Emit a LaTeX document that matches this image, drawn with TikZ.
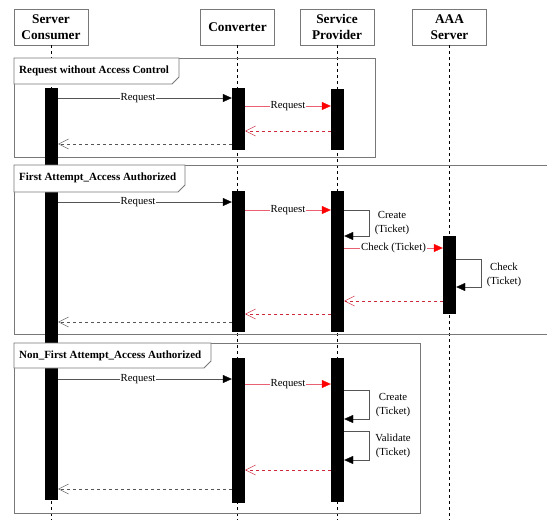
\documentclass[tikz,border=0pt]{standalone}
\usepackage{fontspec}
\setmainfont{Liberation Serif}
\usetikzlibrary{arrows.meta,fit}

\definecolor{framegray}{RGB}{120,120,120}
\definecolor{linegray}{RGB}{85,85,85}
\definecolor{reqred}{RGB}{235,95,115}
\definecolor{retred}{RGB}{205,40,60}

\tikzset{
  head/.style={draw=framegray, fill=white, minimum width=74pt, minimum height=36pt,
    inner sep=0pt, align=center, font=\fontsize{13.3}{16}\selectfont\bfseries},
  lifeline/.style={draw=black, thin, dashed},
  frame/.style={draw=framegray, line width=0.8pt},
  tab/.style={draw=framegray, fill=white, line width=0.8pt},
  tabtext/.style={anchor=west, inner sep=0pt, font=\fontsize{11}{12}\selectfont\bfseries},
  actbar/.style={fill=black, inner sep=0pt},
  msg/.style={fill=white, inner sep=1pt, font=\fontsize{10.8}{13}\selectfont},
  note/.style={align=center, inner sep=0pt, font=\fontsize{10.8}{14}\selectfont},
  call/.style={draw=linegray, -{Triangle[length=9pt,width=8pt,color=black]}},
  callred/.style={draw=reqred, -{Triangle[length=9pt,width=8pt,color=red]}},
  reply/.style={draw=linegray, dashed, -{Straight Barb[length=10pt,width=10pt]}},
  replyred/.style={draw=retred, dashed, -{Straight Barb[length=10pt,width=10pt]}},
}

\begin{document}
\begin{tikzpicture}[x=1pt,y=-1pt]
%\draw[step=10pt,gray,very thin] (0,0) grid (547,520);
\useasboundingbox (0,0) rectangle (547,520);
\clip (0,0) rectangle (547,520);
\coordinate (bottom) at (0,520);

% lifelines
\node[head] (sc) at (51,27) {Server\\Consumer};
\node[head] (cv) at (237.5,27) {Converter};
\node[head] (sp) at (337,27) {Service\\Provider};
\node[head] (aaa) at (449.5,27) {AAA\\Server};
\foreach \p in {sc,cv,sp,aaa}
  \draw[lifeline] (\p.south) -- (\p.south |- bottom);

% frames
\draw[frame] (14,58) rectangle (375,157);
\draw[frame] (14,165) rectangle (560,334);
\draw[frame] (14,343) rectangle (420,513);

% activation bars
\node[actbar, fit={(45,88) (58,500)}] (sc1) {};
\node[actbar, fit={(232,88) (245,150)}] (cv1) {};
\node[actbar, fit={(331,89) (344,150)}] (sp1) {};
\node[actbar, fit={(232,191) (245,332)}] (cv2) {};
\node[actbar, fit={(331,191) (344,332)}] (sp2) {};
\node[actbar, fit={(443,236) (456,314)}] (aaa2) {};
\node[actbar, fit={(232,358) (245,503)}] (cv3) {};
\node[actbar, fit={(331,358) (344,502)}] (sp3) {};

% frame tabs
\draw[tab] (14,58) -- (179,58) -- (179,77) -- (172,84) -- (14,84) -- cycle;
\node[tabtext] (t1) at (19,71) {Request without Access Control};
\draw[tab] (14,165) -- (185,165) -- (185,185) -- (178,192) -- (14,192) -- cycle;
\node[tabtext] (t2) at (19,178) {First Attempt\_Access Authorized};
\draw[tab] (14,343) -- (211,343) -- (211,361) -- (204,368) -- (14,368) -- cycle;
\node[tabtext] (t3) at (19,356) {Non\_First Attempt\_Access Authorized};

% request without access control
\draw[call] (sc1.east |- 0,98) -- node[msg, pos=0.46] {Request} (cv1.west |- 0,98);
\draw[callred] (cv1.east |- 0,106) -- node[msg] {Request} (sp1.west |- 0,106);
\draw[replyred] (sp1.west |- 0,131) -- (cv1.east |- 0,131);
\draw[reply] (cv1.west |- 0,144) -- (sc1.east |- 0,144);

% first attempt
\draw[call] (sc1.east |- 0,202) -- node[msg, pos=0.46] {Request} (cv2.west |- 0,202);
\draw[callred] (cv2.east |- 0,210) -- node[msg] {Request} (sp2.west |- 0,210);
\draw[call] (sp2.east |- 0,210) -- (369,210) |- (sp2.east |- 0,236);
\node[note] (n1) at (392,223) {Create\\(Ticket)};
\draw[callred] (sp2.east |- 0,248) -- node[msg] {Check (Ticket)} (aaa2.west |- 0,248);
\draw[call] (aaa2.east |- 0,259) -- (481,259) |- (aaa2.east |- 0,287);
\node[note] (n2) at (504,275) {Check\\(Ticket)};
\draw[replyred] (aaa2.west |- 0,301) -- (sp2.east |- 0,301);
\draw[replyred] (sp2.west |- 0,314) -- (cv2.east |- 0,314);
\draw[reply] (cv2.west |- 0,322) -- (sc1.east |- 0,322);

% non first attempt
\draw[call] (sc1.east |- 0,379) -- node[msg, pos=0.46] {Request} (cv3.west |- 0,379);
\draw[callred] (cv3.east |- 0,384) -- node[msg] {Request} (sp3.west |- 0,384);
\draw[call] (sp3.east |- 0,390) -- (369,390) |- (sp3.east |- 0,419);
\node[note] (n3) at (393,405) {Create\\(Ticket)};
\draw[call] (sp3.east |- 0,431) -- (369,431) |- (sp3.east |- 0,460);
\node[note] (n4) at (393,446) {Validate\\(Ticket)};
\draw[replyred] (sp3.west |- 0,470) -- (cv3.east |- 0,470);
\draw[reply] (cv3.west |- 0,489) -- (sc1.east |- 0,489);
\end{tikzpicture}
\end{document}
